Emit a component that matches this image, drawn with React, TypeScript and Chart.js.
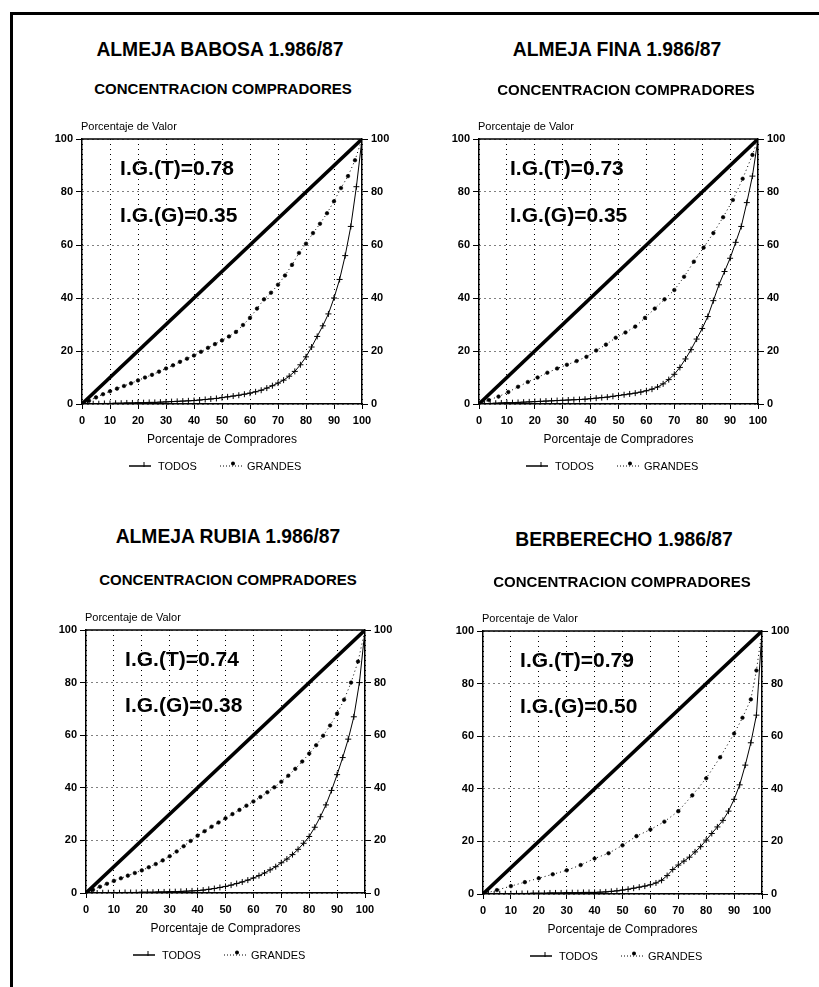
import React, { useEffect, useRef } from "react";
import { Chart, registerables } from "chart.js";

Chart.register(...registerables);

const FONT = '"Liberation Sans", Arial, Helvetica, sans-serif';

// ---------- data ----------
const xTickValues = [0, 10, 20, 30, 40, 50, 60, 70, 80, 90, 100];
const yTickValues = [0, 20, 40, 60, 80, 100];

const X_TITLE = "Porcentaje de Compradores";
const Y_TITLE = "Porcentaje de Valor";
const SUBTITLE = "CONCENTRACION COMPRADORES";
const LEGEND_TODOS = "TODOS";
const LEGEND_GRANDES = "GRANDES";

const diagonalX = [0, 100];
const diagonalY = [0, 100];

const todosX = [0, 2, 4, 6, 8, 10, 12, 14, 16, 18, 20, 22, 24, 26, 28, 30, 32, 34, 36, 38, 40, 42, 44, 46, 48, 50, 52, 54, 56, 58, 60, 62, 64, 66, 68, 70, 72, 74, 76, 78, 80, 82, 84, 86, 88, 90, 92, 94, 96, 98, 100];

const grandesXStd = [0, 2.5, 5, 7.5, 10, 12.5, 15, 17.5, 20, 22.5, 25, 27.5, 30, 32.5, 35, 37.5, 40, 42.5, 45, 47.5, 50, 52.5, 55, 57.5, 60, 62.5, 65, 67.5, 70, 72.5, 75, 77.5, 80, 82.5, 85, 87.5, 90, 92.5, 95, 97.5, 100];
const grandesXFina = [0, 3.5, 7, 10.5, 14, 17.5, 21, 24.5, 28, 31.5, 35, 38.5, 42, 45.5, 49, 52.5, 56, 59.5, 63, 66.5, 70, 73.5, 77, 80.5, 84, 87.5, 91, 94.5, 98, 100];
const grandesXBerberecho = [0, 5, 10, 15, 20, 25, 30, 35, 40, 45, 50, 55, 60, 65, 70, 75, 80, 85, 90, 93, 96, 98, 100];

// ALMEJA BABOSA
const babosaTodos = [0, 0, 0.1, 0.1, 0.2, 0.2, 0.3, 0.3, 0.4, 0.4, 0.5, 0.5, 0.6, 0.6, 0.7, 0.8, 0.9, 1.0, 1.1, 1.2, 1.3, 1.5, 1.7, 1.9, 2.1, 2.4, 2.7, 3.0, 3.3, 3.7, 4.1, 4.6, 5.2, 6.0, 6.9, 7.9, 9.0, 10.5, 12.3, 14.8, 17.8, 21.5, 25.5, 29.5, 34, 40, 47, 56, 67, 82, 100];
const babosaGrandes = [0, 1.2, 2.5, 3.7, 4.8, 5.8, 6.8, 7.8, 8.9, 10, 11, 12.2, 13.4, 14.6, 15.9, 17.1, 18.3, 19.7, 21.2, 22.6, 24, 25.5, 27.2, 29.8, 32.5, 36, 39.5, 42, 45, 48.5, 52.5, 57, 60.5, 64.5, 68, 72, 76.5, 81.5, 86, 92, 100];

// ALMEJA FINA
const finaTodos = [0, 0.1, 0.2, 0.3, 0.4, 0.5, 0.5, 0.6, 0.7, 0.8, 0.9, 1.0, 1.1, 1.2, 1.3, 1.4, 1.5, 1.6, 1.7, 1.8, 2.0, 2.2, 2.4, 2.6, 2.9, 3.2, 3.5, 3.8, 4.1, 4.5, 5.0, 5.6, 6.4, 7.6, 9.2, 11.2, 13.8, 17, 20.5, 24.5, 28.5, 33, 39, 45, 50, 55, 61, 67, 76, 86, 100];
const finaGrandes = [0, 1.5, 2.8, 4.5, 6.5, 8.3, 10, 11.8, 13.4, 14.8, 16.2, 17.8, 20.2, 22.4, 25, 27, 29.2, 32.5, 36, 39.5, 43, 48, 53.7, 59, 64.5, 70.5, 77, 85, 94, 100];

// ALMEJA RUBIA
const rubiaTodos = [0, 0, 0, 0.1, 0.1, 0.1, 0.1, 0.2, 0.2, 0.2, 0.3, 0.3, 0.3, 0.4, 0.4, 0.5, 0.5, 0.6, 0.7, 0.8, 0.9, 1.1, 1.4, 1.7, 2.1, 2.5, 3.0, 3.6, 4.2, 4.9, 5.7, 6.6, 7.6, 8.8, 10, 11.5, 12.9, 14.6, 16.6, 18.9, 21.5, 25, 29, 33.5, 39, 45, 51.5, 58.5, 67, 80, 100];
const rubiaGrandes = [0, 1.2, 2.4, 3.5, 4.6, 5.6, 6.6, 7.6, 8.6, 9.8, 11, 12.4, 14, 15.8, 17.8, 19.8, 21.8, 23.5, 25.2, 26.8, 28.4, 30, 31.6, 33.2, 34.8, 36.5, 38.3, 40.2, 42.3, 44.6, 47.2, 50, 53, 56.2, 59.8, 63.7, 68.2, 73.5, 80, 88, 100];

// BERBERECHO
const berberechoTodos = [0, 0, 0, 0.1, 0.1, 0.1, 0.2, 0.2, 0.2, 0.3, 0.3, 0.3, 0.4, 0.4, 0.4, 0.5, 0.5, 0.5, 0.6, 0.6, 0.6, 0.7, 0.8, 1.0, 1.2, 1.5, 1.8, 2.2, 2.6, 3.0, 3.5, 4.2, 5.2, 7, 9.3, 11, 12.5, 14, 16, 18, 20.5, 23, 25.5, 28, 31.5, 36, 41.5, 49, 57.5, 68, 100];
const berberechoGrandes = [0, 1.5, 3, 4.5, 6, 7.5, 9, 11, 13.5, 15.5, 18.5, 22, 24.5, 27.5, 31.5, 37.5, 44, 52, 61, 67, 74, 85, 100];

type PanelCfg = {
  title: string;
  igT: string;
  igG: string;
  todosY: number[];
  grandesX: number[];
  grandesY: number[];
  plotLeft: number;
  plotTop: number;
  plotW: number;
  plotH: number;
  titleX: number;
  titleY: number;
  subX: number;
  subY: number;
  labelX: number;
};

const panels: PanelCfg[] = [
  {
    title: "ALMEJA BABOSA 1.986/87", igT: "I.G.(T)=0.78", igG: "I.G.(G)=0.35",
    todosY: babosaTodos, grandesX: grandesXStd, grandesY: babosaGrandes,
    plotLeft: 82, plotTop: 139, plotW: 280, plotH: 265,
    titleX: 220, titleY: 50, subX: 223, subY: 88, labelX: 13.6,
  },
  {
    title: "ALMEJA FINA 1.986/87", igT: "I.G.(T)=0.73", igG: "I.G.(G)=0.35",
    todosY: finaTodos, grandesX: grandesXFina, grandesY: finaGrandes,
    plotLeft: 479, plotTop: 139, plotW: 279, plotH: 265,
    titleX: 617, titleY: 50, subX: 626, subY: 89, labelX: 11.1,
  },
  {
    title: "ALMEJA RUBIA 1.986/87", igT: "I.G.(T)=0.74", igG: "I.G.(G)=0.38",
    todosY: rubiaTodos, grandesX: grandesXStd, grandesY: rubiaGrandes,
    plotLeft: 86, plotTop: 630, plotW: 279, plotH: 263,
    titleX: 228, titleY: 537, subX: 228, subY: 579, labelX: 14,
  },
  {
    title: "BERBERECHO 1.986/87", igT: "I.G.(T)=0.79", igG: "I.G.(G)=0.50",
    todosY: berberechoTodos, grandesX: grandesXBerberecho, grandesY: berberechoGrandes,
    plotLeft: 483, plotTop: 631, plotW: 279, plotH: 263,
    titleX: 624, titleY: 540, subX: 622, subY: 581, labelX: 13.3,
  },
];

const LEFT_AXIS_W = 62;
const RIGHT_AXIS_W = 58;
const PAD_TOP = 34;
const X_AXIS_H = 44;
const PAD_BOTTOM = 40;

function Panel({ p }: { p: PanelCfg }) {
  const ref = useRef<HTMLCanvasElement | null>(null);
  const W = LEFT_AXIS_W + p.plotW + RIGHT_AXIS_W;
  const H = PAD_TOP + p.plotH + X_AXIS_H + PAD_BOTTOM;

  useEffect(() => {
    if (!ref.current) return;
    const tickFont = { family: FONT, size: 11, weight: "bold" as const };
    const setX = (s: any) => { s.ticks = xTickValues.map((v) => ({ value: v })); };
    const setY = (s: any) => { s.ticks = yTickValues.map((v) => ({ value: v })); };

    const decor = {
      id: "decor",
      afterDraw(chart: any) {
        const { ctx, chartArea: a, scales } = chart;
        ctx.save();
        ctx.fillStyle = "#000";
        ctx.strokeStyle = "#000";
        // top border
        ctx.lineWidth = 1.5;
        ctx.setLineDash([]);
        ctx.beginPath();
        ctx.moveTo(a.left, a.top);
        ctx.lineTo(a.right, a.top);
        ctx.stroke();
        // y title
        ctx.font = `11px ${FONT}`;
        ctx.textAlign = "left";
        ctx.textBaseline = "middle";
        ctx.fillText(Y_TITLE, a.left - 1, a.top - 12);
        // I.G. labels
        ctx.font = `bold 21px ${FONT}`;
        const lx = scales.x.getPixelForValue(p.labelX);
        ctx.fillText(p.igT, lx, scales.y.getPixelForValue(88.6));
        ctx.fillText(p.igG, lx, scales.y.getPixelForValue(71));
        // legend
        const ly = a.bottom + 62;
        const gx = a.left;
        ctx.lineWidth = 1.5;
        ctx.beginPath();
        ctx.moveTo(gx + 47, ly);
        ctx.lineTo(gx + 69, ly);
        ctx.stroke();
        ctx.lineWidth = 1;
        ctx.beginPath();
        ctx.moveTo(gx + 62, ly - 4);
        ctx.lineTo(gx + 62, ly + 1);
        ctx.stroke();
        ctx.font = `11px ${FONT}`;
        ctx.fillText(LEGEND_TODOS, gx + 76, ly + 1);
        ctx.setLineDash([1, 2]);
        ctx.beginPath();
        ctx.moveTo(gx + 138, ly);
        ctx.lineTo(gx + 162, ly);
        ctx.stroke();
        ctx.setLineDash([]);
        ctx.beginPath();
        ctx.arc(gx + 151, ly - 2.5, 2, 0, Math.PI * 2);
        ctx.fill();
        ctx.fillText(LEGEND_GRANDES, gx + 165, ly + 1);
        ctx.restore();
      },
    };

    const chart = new Chart(ref.current, {
      type: "line",
      data: {
        datasets: [
          {
            label: "diagonal",
            data: diagonalX.map((x, i) => ({ x, y: diagonalY[i] })),
            borderColor: "#000",
            borderWidth: 3.5,
            pointRadius: 0,
            tension: 0,
          },
          {
            label: LEGEND_TODOS,
            data: todosX.map((x, i) => ({ x, y: p.todosY[i] })),
            borderColor: "#000",
            borderWidth: 1,
            pointStyle: "cross",
            pointRadius: 3,
            pointBorderWidth: 1,
            pointBorderColor: "#000",
            tension: 0,
          },
          {
            label: LEGEND_GRANDES,
            data: p.grandesX.map((x, i) => ({ x, y: p.grandesY[i] })),
            borderColor: "#000",
            borderWidth: 1,
            borderDash: [1, 3],
            pointStyle: "circle",
            pointRadius: 1.8,
            pointBackgroundColor: "#000",
            pointBorderColor: "#000",
            pointBorderWidth: 0.6,
            tension: 0,
          },
        ],
      },
      options: {
        responsive: false,
        animation: false,
        devicePixelRatio: 1,
        layout: { padding: { top: PAD_TOP, bottom: PAD_BOTTOM, left: 0, right: 0 } },
        plugins: {
          legend: { display: false },
          tooltip: { enabled: false },
          title: { display: false },
        },
        scales: {
          x: {
            type: "linear",
            position: "bottom",
            min: 0,
            max: 100,
            afterBuildTicks: setX,
            afterFit: (s: any) => { s.height = X_AXIS_H; },
            ticks: { color: "#000", font: tickFont, padding: 5, maxRotation: 0, autoSkip: false },
            grid: { color: "#000", lineWidth: 1, drawTicks: true, tickLength: 5, tickColor: "#000" },
            border: { display: true, color: "#000", width: 1.5, dash: [1, 4] },
            title: { display: true, text: X_TITLE, color: "#000", font: { family: FONT, size: 12 }, padding: { top: 0, bottom: 1 } },
          },
          y: {
            type: "linear",
            position: "left",
            min: 0,
            max: 100,
            afterBuildTicks: setY,
            afterFit: (s: any) => { s.width = LEFT_AXIS_W; },
            ticks: { color: "#000", font: tickFont, padding: 3 },
            grid: { color: "#000", lineWidth: 1, drawTicks: true, tickLength: 6, tickColor: "#000" },
            border: { display: true, color: "#000", width: 1.5, dash: [1, 4] },
          },
          y2: {
            type: "linear",
            position: "right",
            min: 0,
            max: 100,
            afterBuildTicks: setY,
            afterFit: (s: any) => { s.width = RIGHT_AXIS_W; },
            ticks: { color: "#000", font: tickFont, padding: 3 },
            grid: { drawOnChartArea: false, drawTicks: true, tickLength: 6, tickColor: "#000", color: "#000" },
            border: { display: true, color: "#000", width: 1.5 },
          },
        },
      } as any,
      plugins: [decor],
    });
    return () => chart.destroy();
  }, [p]);

  const titleStyle = (cx: number, cy: number, size: number): React.CSSProperties => ({
    position: "absolute",
    left: cx - 200,
    top: cy - size / 2,
    width: 400,
    textAlign: "center",
    fontFamily: FONT,
    fontWeight: "bold",
    fontSize: size,
    lineHeight: `${size}px`,
    color: "#000",
    whiteSpace: "nowrap",
  });

  return (
    <>
      <div style={titleStyle(p.titleX, p.titleY, 19.3)}>{p.title}</div>
      <div style={titleStyle(p.subX, p.subY, 15)}>{SUBTITLE}</div>
      <canvas
        ref={ref}
        width={W}
        height={H}
        style={{ position: "absolute", left: p.plotLeft - LEFT_AXIS_W, top: p.plotTop - PAD_TOP, width: W, height: H }}
      />
    </>
  );
}

export default function App() {
  return (
    <div style={{ position: "absolute", left: 0, top: 0, width: 819, height: 987, overflow: "hidden", background: "#fff" }}>
      <div style={{ position: "absolute", left: 10, top: 12, width: 900, height: 1000, borderLeft: "3px solid #000", borderTop: "3px solid #000" }} />
      {panels.map((p) => (
        <Panel key={p.title} p={p} />
      ))}
    </div>
  );
}
